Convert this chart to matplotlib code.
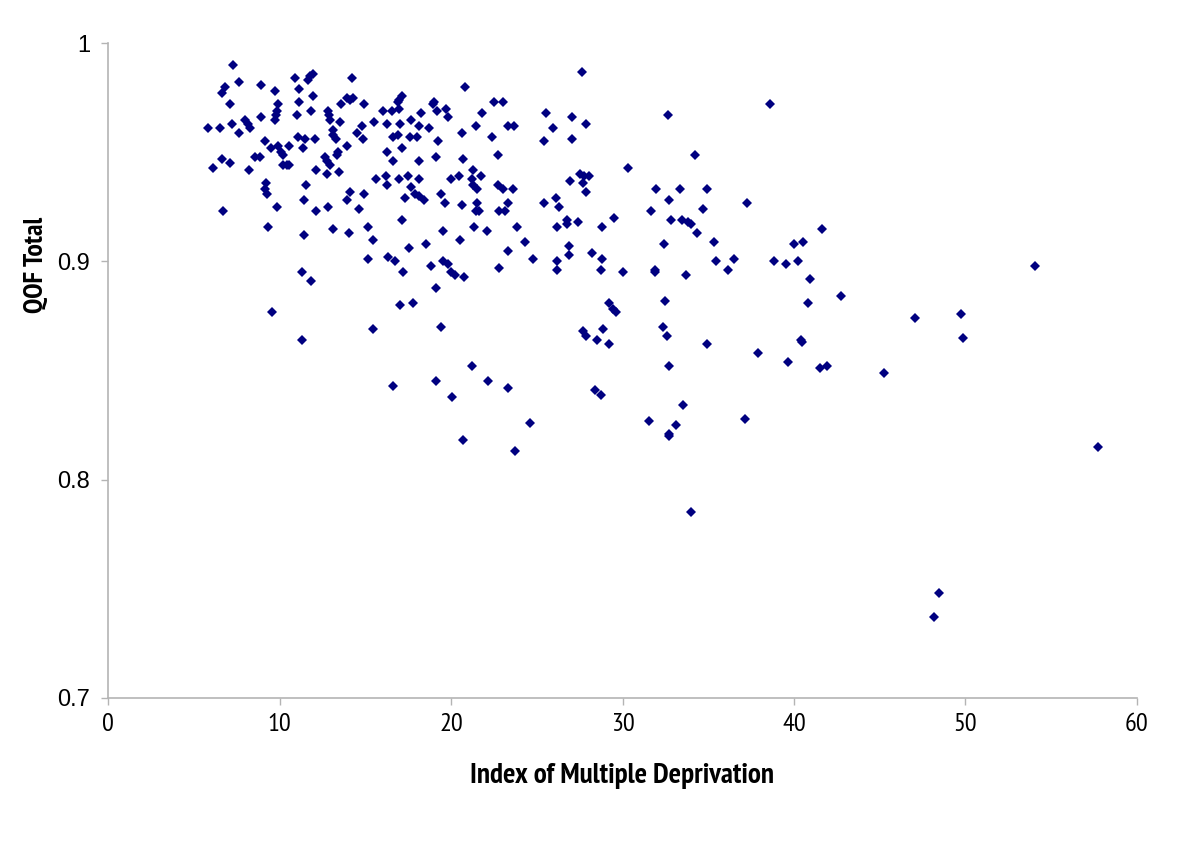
import matplotlib.pyplot as plt

plt.rcParams.update({"font.family": ["Liberation Sans", "DejaVu Sans"]})

# Data (IMD score, QOF total)
imd = [7.31, 6.82, 7.62, 6.65, 7.11, 8.92, 9.74, 9.93, 9.87, 9.80, 9.74, 8.92,
       10.92, 11.12, 11.68, 11.94, 11.78, 11.94, 11.12, 11.04, 11.84, 12.81, 12.87, 12.94,
       13.53, 13.57, 13.92, 14.30, 14.23, 14.93, 14.11, 5.85, 6.53, 7.23, 7.64, 8.01,
       8.18, 8.28, 9.15, 9.50, 9.93, 10.07, 10.22, 10.55, 11.10, 11.49, 12.07, 11.39,
       13.14, 13.10, 13.28, 13.92, 13.43, 13.33, 14.50, 14.79, 14.85, 6.14, 6.66, 7.11,
       8.24, 8.57, 8.86, 10.22, 10.42, 10.57, 12.13, 12.65, 12.79, 12.94, 12.75, 13.49,
       9.21, 9.18, 9.25, 6.72, 9.84, 9.33, 11.53, 11.43, 12.13, 12.83, 11.43, 13.12,
       14.04, 14.13, 13.92, 14.93, 14.62, 15.18, 15.18, 11.33, 11.84, 9.55,
       11.31, 15.45, 19.42, 27.70, 27.90, 16.62, 19.13, 20.06, 21.22, 22.16, 23.32, 24.61,
       20.70, 23.73,
       20.82, 17.12, 16.99, 16.99, 16.89, 16.05, 16.54, 15.53, 16.25, 17.03, 17.65, 18.23,
       18.11, 18.73, 19.01, 18.93, 19.16, 19.71, 19.84, 20.62, 21.44, 21.83, 22.51, 23.01,
       23.31, 23.69, 22.41, 22.72, 16.64, 16.89, 17.61, 18.04, 17.12, 19.22, 16.25, 16.60,
       18.15, 19.13, 20.72, 21.30,
       15.63, 16.21, 16.25, 16.99, 17.51, 17.65, 18.15, 17.32, 17.90, 18.13, 18.43, 19.98,
       20.45, 21.21, 21.30, 21.53, 21.73, 22.76, 23.05, 23.63, 19.40, 19.65, 20.62, 21.53,
       21.46, 21.65, 23.34, 22.82, 23.15, 17.12, 15.43, 19.52, 21.34, 22.12, 23.83, 20.52,
       18.52, 17.53, 24.31, 23.34, 24.80, 16.34, 16.73, 17.22, 18.82, 19.52, 19.84, 19.98,
       20.23, 20.76, 22.82, 19.13, 17.03, 17.80,
       27.62, 25.54, 25.93, 25.42, 27.04, 27.85, 27.04, 32.64, 34.23, 30.30,
       26.94, 27.52, 27.76, 28.06, 27.67, 27.85, 25.42, 26.12, 26.32, 26.20, 26.75, 26.78,
       27.42, 28.82, 29.52, 26.90, 26.90, 28.20, 26.20, 26.16, 28.82, 28.73, 30.05, 31.93,
       33.35, 34.91, 32.73, 31.64, 32.85, 33.45, 33.84, 33.98, 34.33, 34.71, 32.42, 31.92,
       31.92, 33.70, 32.50, 29.23,
       29.47, 29.62, 40.83, 28.85, 28.53, 29.23, 32.34, 32.61, 34.91, 37.92, 39.63, 40.41,
       40.45, 41.52, 41.94, 32.73, 28.40, 28.73, 33.55, 31.55, 33.12, 32.73, 32.73, 37.14,
       38.60, 37.24, 41.65, 35.34, 35.45, 36.52, 36.13, 38.83, 39.53, 40.21, 40.02, 40.54,
       40.93, 42.74, 54.05,
       47.06, 49.74, 49.84, 45.25, 57.73, 48.44, 48.15, 34.00]

qof = [0.990, 0.980, 0.982, 0.977, 0.972, 0.981, 0.978, 0.972, 0.969, 0.967, 0.965, 0.966,
       0.984, 0.979, 0.983, 0.986, 0.985, 0.976, 0.973, 0.967, 0.969, 0.969, 0.967, 0.965,
       0.964, 0.972, 0.975, 0.975, 0.984, 0.972, 0.974, 0.961, 0.961, 0.963, 0.959, 0.965,
       0.963, 0.961, 0.955, 0.952, 0.953, 0.950, 0.949, 0.953, 0.957, 0.956, 0.956, 0.952,
       0.960, 0.958, 0.956, 0.953, 0.950, 0.949, 0.959, 0.962, 0.956, 0.943, 0.947, 0.945,
       0.942, 0.948, 0.948, 0.944, 0.944, 0.944, 0.942, 0.948, 0.946, 0.944, 0.940, 0.941,
       0.936, 0.933, 0.931, 0.923, 0.925, 0.916, 0.935, 0.928, 0.923, 0.925, 0.912, 0.915,
       0.913, 0.932, 0.928, 0.931, 0.924, 0.916, 0.901, 0.895, 0.891, 0.877,
       0.864, 0.869, 0.870, 0.868, 0.866, 0.843, 0.845, 0.838, 0.852, 0.845, 0.842, 0.826,
       0.818, 0.813,
       0.980, 0.976, 0.974, 0.970, 0.973, 0.969, 0.969, 0.964, 0.963, 0.963, 0.965, 0.968,
       0.962, 0.961, 0.973, 0.972, 0.969, 0.970, 0.966, 0.959, 0.962, 0.968, 0.973, 0.973,
       0.962, 0.962, 0.957, 0.949, 0.957, 0.958, 0.957, 0.957, 0.952, 0.955, 0.950, 0.946,
       0.946, 0.948, 0.947, 0.942,
       0.938, 0.939, 0.935, 0.938, 0.939, 0.934, 0.938, 0.929, 0.931, 0.930, 0.928, 0.938,
       0.939, 0.938, 0.935, 0.933, 0.939, 0.935, 0.933, 0.933, 0.931, 0.927, 0.926, 0.927,
       0.923, 0.923, 0.927, 0.923, 0.923, 0.919, 0.910, 0.914, 0.916, 0.914, 0.916, 0.910,
       0.908, 0.906, 0.909, 0.905, 0.901, 0.902, 0.900, 0.895, 0.898, 0.900, 0.899, 0.895,
       0.894, 0.893, 0.897, 0.888, 0.880, 0.881,
       0.987, 0.968, 0.961, 0.955, 0.966, 0.963, 0.956, 0.967, 0.949, 0.943,
       0.937, 0.940, 0.939, 0.939, 0.936, 0.932, 0.927, 0.929, 0.925, 0.916, 0.919, 0.917,
       0.918, 0.916, 0.920, 0.907, 0.903, 0.904, 0.900, 0.896, 0.901, 0.896, 0.895, 0.933,
       0.933, 0.933, 0.928, 0.923, 0.919, 0.919, 0.918, 0.917, 0.913, 0.924, 0.908, 0.896,
       0.895, 0.894, 0.882, 0.881,
       0.878, 0.877, 0.881, 0.869, 0.864, 0.862, 0.870, 0.866, 0.862, 0.858, 0.854, 0.864,
       0.863, 0.851, 0.852, 0.852, 0.841, 0.839, 0.834, 0.827, 0.825, 0.821, 0.820, 0.828,
       0.972, 0.927, 0.915, 0.909, 0.900, 0.901, 0.896, 0.900, 0.899, 0.900, 0.908, 0.909,
       0.892, 0.884, 0.898,
       0.874, 0.876, 0.865, 0.849, 0.815, 0.748, 0.737, 0.785]

fig = plt.figure(figsize=(12, 8.47), dpi=100)
ax = fig.add_axes([0.09, 0.176, 0.8575, 0.773])
ax.plot(imd, qof, linestyle='none', marker='D', markersize=5.6,
        color='#000080', markeredgewidth=0)

ax.set_xlim(0, 60)
ax.set_ylim(0.7, 1.0)
ax.set_xticks([0, 10, 20, 30, 40, 50, 60])
ax.set_yticks([0.7, 0.8, 0.9, 1.0])
ax.set_yticklabels(['0.7', '0.8', '0.9', '1'])

for side in ['top', 'right']:
    ax.spines[side].set_visible(False)
for side in ['left', 'bottom']:
    ax.spines[side].set_color('#b4b4b4')
    ax.spines[side].set_linewidth(1.2)
ax.tick_params(colors='#b4b4b4', length=5, width=1, labelcolor='black', labelsize=17)
ax.tick_params(axis='y', pad=8)
ax.tick_params(axis='x', pad=6)

narrow = ['PT Sans Narrow', 'Archivo Narrow', 'Liberation Sans']
for lab in ax.get_xticklabels():
    lab.set_family(narrow)
    lab.set_fontsize(19)

ax.set_xlabel("Index of Multiple Deprivation", family=narrow, fontsize=21,
              fontweight='bold', labelpad=19)
ax.set_ylabel("QOF Total", family=narrow, fontsize=20, fontweight='bold')
ax.yaxis.set_label_coords(-0.058, 0.662)

fig.savefig('out.png', dpi=100)
